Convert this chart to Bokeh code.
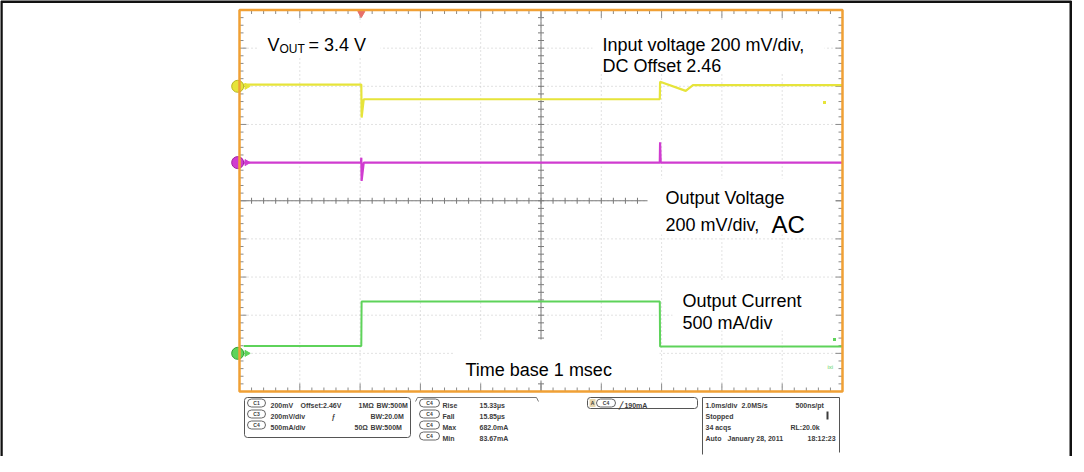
import numpy as np
from bokeh.plotting import figure
from bokeh.models import Range1d, Label
from bokeh.embed import file_html
from bokeh.resources import INLINE

# ---------------- data ----------------
# time axis: 1 ms/div, 10 divisions, trigger at 0 ms
time_start_ms, time_end_ms = -2.0, 8.0
div_lo, div_hi = -5.0, 5.0

# Input voltage (channel 1), volts
vin_t = [-1.93, 0.02, 0.025, 0.06, 4.97, 4.975, 5.40, 5.52, 8.0]
vin_v = [2.469, 2.469, 2.296, 2.392, 2.392, 2.484, 2.436, 2.466, 2.466]

# Output voltage (channel 3, AC coupled), mV
vout_t = [-1.93, 0.015, 0.02, 0.025, 0.06, 4.97, 4.975, 4.985, 8.0]
vout_mv = [0, 0, 26, -96, 0, 0, 106, 0, 0]

# Output current (channel 4), mA
iout_t = [-1.93, 0.02, 0.025, 4.97, 4.975, 8.0]
iout_ma = [95, 95, 680, 680, 90, 90]

# channel settings
ch_names = ["C1", "C3", "C4"]
ch_colors = ["#e6e43a", "#d03cd0", "#5ed35a"]
ch_edge = ["#b8b620", "#a020a0", "#30a030"]
ch_scale = [0.2, 200.0, 500.0]   # units per division
ch_ref = [2.46, 0.0, 0.0]        # value at the channel marker
ch_pos = [3.0, 1.0, -4.0]        # marker position, divisions

# ---------------- page geometry ----------------
PX0, PY0 = 8, 8
W, H = 1072, 456
SX0, SX1, SY0, SY1 = 247.0, 850.0, 17.5, 399.0   # scope frame on page


def tx(px):
    return time_start_ms + (px - SX0) * (time_end_ms - time_start_ms) / (SX1 - SX0)


def vy(py):
    return div_hi - (py - SY0) * (div_hi - div_lo) / (SY1 - SY0)


UX = (time_end_ms - time_start_ms) / (SX1 - SX0)   # ms per px
UY = (div_hi - div_lo) / (SY1 - SY0)               # div per px

p = figure(width=W, height=H,
           x_range=Range1d(tx(PX0), tx(PX0 + W)),
           y_range=Range1d(vy(PY0 + H), vy(PY0)),
           output_backend="svg", toolbar_location=None,
           x_axis_location=None, y_axis_location=None,
           min_border=0, outline_line_color=None)
p.background_fill_color = "white"
p.border_fill_color = "white"
p.grid.grid_line_color = None
p.grid.visible = False

lo, hi = p.y_range.start, p.y_range.end
p.extra_y_ranges = {
    n: Range1d(r + (lo - pos) * s, r + (hi - pos) * s)
    for n, r, pos, s in zip(ch_names, ch_ref, ch_pos, ch_scale)
}

# ---------------- graticule ----------------
gx = np.arange(time_start_ms + 1, time_end_ms)
gy = np.arange(div_lo + 1, div_hi)
p.segment(x0=gx, y0=div_lo, x1=gx, y1=div_hi, line_color="#c4c4c4",
          line_dash="1 3", line_width=1)
p.segment(x0=time_start_ms, y0=gy, x1=time_end_ms, y1=gy, line_color="#c4c4c4",
          line_dash="1 3", line_width=1)

# centre cross
xc = (time_start_ms + time_end_ms) / 2
p.segment(x0=[time_start_ms, xc], y0=[0, div_lo], x1=[time_end_ms, xc], y1=[0, div_hi],
          line_color="#7a7a7a", line_width=1)

tt = np.round(np.arange(time_start_ms + 0.2, time_end_ms - 0.1, 0.2), 3)
vv = np.round(np.arange(div_lo + 0.2, div_hi - 0.1, 0.2), 3)
# ticks on centre lines
p.segment(x0=tt, y0=-3 * UY, x1=tt, y1=3 * UY, line_color="#7a7a7a", line_width=1)
p.segment(x0=xc - 3 * UX, y0=vv, x1=xc + 3 * UX, y1=vv, line_color="#7a7a7a", line_width=1)
# ticks on the edges
lt = np.where(np.isclose(tt, np.round(tt)), 8, 4)
lv = np.where(np.isclose(vv, np.round(vv)), 7, 4)
p.segment(x0=tt, y0=div_hi, x1=tt, y1=div_hi - lt * UY, line_color="#8a8a8a", line_width=1)
p.segment(x0=tt, y0=div_lo, x1=tt, y1=div_lo + lt * UY, line_color="#8a8a8a", line_width=1)
p.segment(x0=time_start_ms, y0=vv, x1=time_start_ms + lv * UX, y1=vv, line_color="#8a8a8a", line_width=1)
p.segment(x0=time_end_ms, y0=vv, x1=time_end_ms - lv * UX, y1=vv, line_color="#8a8a8a", line_width=1)

# white boxes behind the annotations
boxes = [(266, 388, 30, 64), (600, 832, 28, 80), (655, 843, 186, 242),
         (680, 843, 288, 338), (462, 667, 347, 388)]
p.quad(left=[tx(b[0]) for b in boxes], right=[tx(b[1]) for b in boxes],
       top=[vy(b[2]) for b in boxes], bottom=[vy(b[3]) for b in boxes],
       fill_color="white", line_color=None)

# ---------------- traces ----------------
p.line(vin_t, vin_v, y_range_name="C1", line_color=ch_colors[0], line_width=2.2)
p.line(vout_t, vout_mv, y_range_name="C3", line_color=ch_colors[1], line_width=2.2)
p.line(iout_t, iout_ma, y_range_name="C4", line_color=ch_colors[2], line_width=2)

# channel markers on the left edge
p.scatter(x=[time_start_ms - 0.03] * 3, y=ch_pos, size=12, marker="circle",
          fill_color=ch_colors, line_color=ch_edge, line_width=1)
p.scatter(x=[time_start_ms + 0.12] * 3, y=ch_pos, size=6, marker="triangle",
          angle=-np.pi / 2, fill_color=ch_colors, line_color=ch_colors)
# trigger marker
p.scatter(x=[0.02], y=[vy(21)], marker="inverted_triangle", size=7,
          fill_color="#e8706a", line_color="#e8706a")
# small level dots at the right
p.scatter(x=[tx(832), tx(842)], y=[vy(110), vy(347)], marker="square", size=3,
          fill_color=[ch_colors[0], ch_colors[2]], line_color=None)

# scope frame
p.quad(left=time_start_ms, right=time_end_ms, top=div_hi, bottom=div_lo,
       fill_color=None, line_color="#f0a035", line_width=2.5)

# outer black border (bottom is off the page)
p.line(x=[tx(8.75), tx(8.75), tx(1078.5), tx(1078.5)],
       y=[vy(480), vy(9), vy(9), vy(480)], line_color="#111111", line_width=3)

# ---------------- annotations ----------------
FONT = "Liberation Sans"


def lab(x, y, text, size="18px", color="black", bold=False, align="left", baseline="alphabetic"):
    p.add_layout(Label(x=tx(x), y=vy(y), text=text, text_font=FONT,
                       text_font_size=size, text_color=color,
                       text_font_style="bold" if bold else "normal",
                       text_align=align, text_baseline=baseline))


lab(275, 52, "V")
lab(287, 56.5, "OUT", size="12px")
lab(316, 52, "= 3.4 V")
lab(610, 52.5, "Input voltage 200 mV/div,")
lab(610, 73.5, "DC Offset 2.46")
lab(673, 205.5, "Output Voltage")
lab(673, 232, "200 mV/div,")
lab(779, 232, "AC", size="24px")
lab(690, 308.5, "Output Current")
lab(690, 330, "500 mA/div")
lab(473, 377, "Time base 1 msec")
lab(835, 374, "ixi", size="6px", color=ch_colors[2])

# ---------------- readout panel ----------------
PC = "#3c3c3c"
PF = "7px"
# boxes
p.quad(left=[tx(252), tx(595)], right=[tx(418), tx(705)],
       top=[vy(405), vy(405)], bottom=[vy(445), vy(416)],
       fill_color=None, line_color="#555555", line_width=1, border_radius=3)
p.line(x=[tx(423), tx(425), tx(544), tx(546)], y=[vy(409), vy(405), vy(405), vy(409)],
       line_color="#777777", line_width=1)
p.line(x=[tx(710), tx(710), tx(847), tx(847)], y=[vy(462), vy(405), vy(405), vy(460)],
       line_color="#555555", line_width=1)

row1 = [410.5, 421.5, 432.5]
row2 = [410.5, 421.5, 432.5, 443.5]
pill_l = [255] * 3 + [427] * 4 + [604]
pill_r = [273] * 3 + [447] * 4 + [623]
pill_y = row1 + row2 + [410.5]
pill_t = ["C1", "C3", "C4", "C4", "C4", "C4", "C4", "C4"]
p.quad(left=[tx(a) for a in pill_l], right=[tx(b) for b in pill_r],
       top=[vy(y - 4) for y in pill_y], bottom=[vy(y + 4) for y in pill_y],
       fill_color="white", line_color="#666666", line_width=1, border_radius=4)
for a, b, y, t in zip(pill_l, pill_r, pill_y, pill_t):
    lab((a + b) / 2, y, t, size="5px", color=PC, bold=True, align="center", baseline="middle")
p.quad(left=[tx(597)], right=[tx(603)], top=[vy(406.5)], bottom=[vy(414.5)],
       fill_color="#e6d6ae", line_color=None)
lab(600, 410.5, "A", size="5px", color=PC, bold=True, align="center", baseline="middle")

panel_text = [
    (278, 413, "200mV"), (308, 413, "Offset:2.46V"), (366, 413, "1MΩ"), (384, 413, "BW:500M"),
    (278, 424, "200mV/div"), (339, 424, "ƒ"), (378, 424, "BW:20.0M"),
    (278, 435, "500mA/div"), (362, 435, "50Ω"), (378, 435, "BW:500M"),
    (450, 413, "Rise"), (487, 413, "15.33µs"),
    (450, 424, "Fall"), (487, 424, "15.85µs"),
    (450, 435, "Max"), (487, 435, "682.0mA"),
    (450, 446, "Min"), (487, 446, "83.67mA"),
    (626, 413, "╱ 190mA"),
    (713, 413, "1.0ms/div"), (749, 413, "2.0MS/s"), (803, 413, "500ns/pt"),
    (713, 424, "Stopped"),
    (713, 435, "34 acqs"), (798, 435, "RL:20.0k"),
    (713, 446, "Auto"), (735, 446, "January 28, 2011"), (815, 446, "18:12:23"),
]
for x, y, t in panel_text:
    lab(x, y, t, size=PF, color=PC, bold=True)
p.quad(left=[tx(834)], right=[tx(836)], top=[vy(419)], bottom=[vy(427)],
       fill_color=PC, line_color=None)

open("out.html", "w").write(file_html(p, INLINE))
